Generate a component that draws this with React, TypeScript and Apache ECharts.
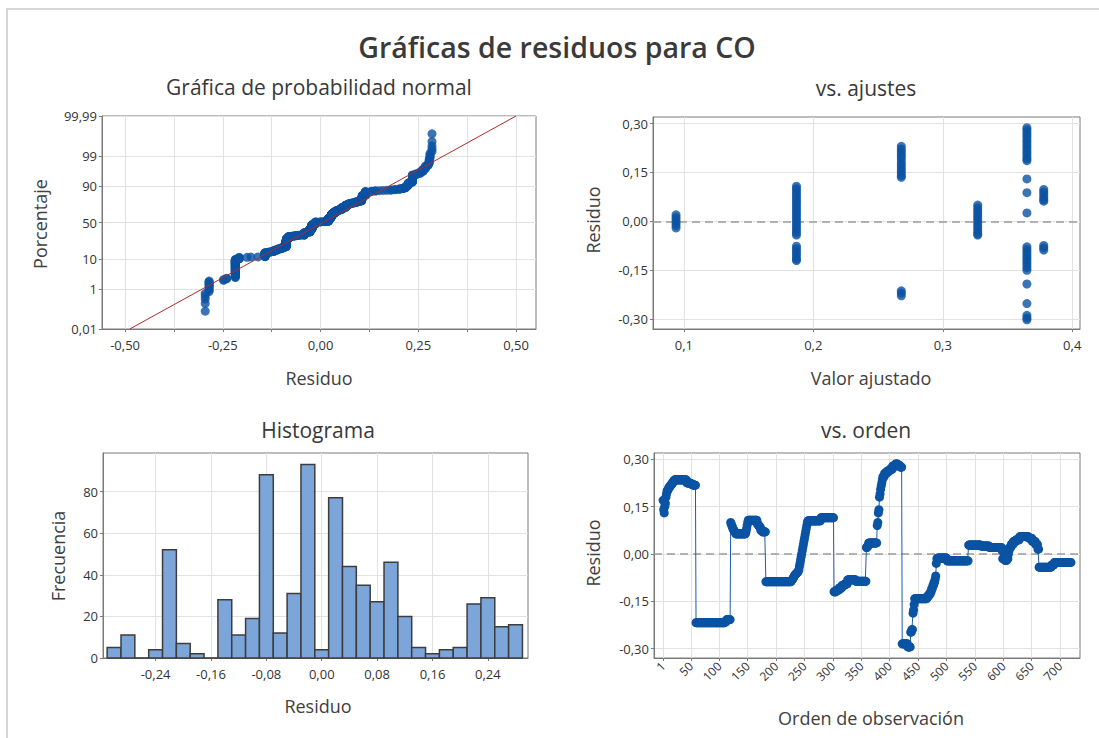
import React, { useEffect, useRef } from "react";
import * as echarts from "echarts";

// ---------- texts ----------
const mainTitle = "Gráficas de residuos para CO";
const panelTitles = ["Gráfica de probabilidad normal", "vs. ajustes", "Histograma", "vs. orden"];
const xNames = ["Residuo", "Valor ajustado", "Residuo", "Orden de observación"];
const yNames = ["Porcentaje", "Residuo", "Frecuencia", "Residuo"];

// ---------- residuals in observation order (run-length: [residual, count]) ----------
const orderRuns: [number, number][] = [
  [0.17, 1], [0.14, 1], [0.13, 1], [0.15, 1], [0.16, 1], [0.18, 1], [0.19, 1], [0.2, 2], [0.205, 1],
  [0.21, 2], [0.215, 2], [0.22, 2], [0.225, 2], [0.23, 2], [0.235, 22], [0.225, 6], [0.222, 5], [0.218, 5],
  [-0.218, 51], [-0.215, 3], [-0.208, 7],
  [0.1, 1], [0.095, 1], [0.09, 1], [0.085, 1], [0.08, 1], [0.077, 1], [0.074, 1], [0.071, 1], [0.068, 1],
  [0.064, 18], [0.07, 1], [0.08, 1], [0.09, 1], [0.1, 1], [0.107, 16], [0.095, 2], [0.09, 2], [0.085, 2],
  [0.075, 3], [0.07, 6],
  [-0.088, 45], [-0.085, 1], [-0.082, 1], [-0.08, 1], [-0.077, 1], [-0.074, 1], [-0.07, 1], [-0.067, 1],
  [-0.065, 1], [-0.063, 1], [-0.061, 1], [-0.06, 1], [-0.058, 1], [-0.055, 1], [-0.05, 1],
  [-0.04, 1], [-0.03, 1], [-0.02, 1], [-0.01, 1], [0.0, 1], [0.01, 1], [0.02, 1], [0.03, 1], [0.04, 1],
  [0.05, 1], [0.06, 1], [0.07, 1], [0.08, 1], [0.09, 1], [0.1, 1], [0.105, 1], [0.105, 22], [0.115, 23],
  [-0.12, 4], [-0.115, 5], [-0.108, 5], [-0.1, 5], [-0.095, 5], [-0.082, 15], [-0.087, 18],
  [0.02, 2], [0.025, 2], [0.035, 15],
  [0.09, 1], [0.1, 1], [0.13, 1], [0.14, 1], [0.18, 1], [0.19, 1], [0.205, 1], [0.215, 1], [0.225, 1],
  [0.235, 1], [0.245, 3], [0.255, 4], [0.262, 5], [0.268, 5], [0.278, 5], [0.285, 5], [0.28, 4], [0.275, 3],
  [-0.285, 10], [-0.295, 5], [-0.248, 2], [-0.24, 2], [-0.188, 1], [-0.178, 1], [-0.16, 1], [-0.142, 22],
  [-0.135, 3], [-0.128, 3], [-0.12, 2], [-0.11, 2], [-0.1, 2], [-0.09, 2], [-0.08, 1], [-0.07, 1],
  [-0.03, 1], [-0.015, 1],
  [-0.013, 17], [-0.022, 38], [0.028, 22], [0.025, 15], [0.02, 22], [0.01, 1], [-0.015, 4], [-0.02, 4],
  [-0.015, 2], [0.0, 1], [0.01, 1], [0.02, 3], [0.03, 4], [0.04, 5], [0.045, 6], [0.055, 16], [0.05, 6],
  [0.04, 6], [0.03, 4], [0.015, 2], [-0.042, 22], [-0.035, 5], [-0.027, 30],
];
const orderTicks = [1, 50, 100, 150, 200, 250, 300, 350, 400, 450, 500, 550, 600, 650, 700];

// ---------- normal probability plot ----------
const probTickPercents = [0.01, 1, 10, 50, 90, 99, 99.99];
const probTickLabels = ["0,01", "1", "10", "50", "90", "99", "99,99"];
const probXTicks = [-0.5, -0.25, 0, 0.25, 0.5];
const probXGrid = [-0.5, -0.375, -0.25, -0.125, 0, 0.125, 0.25, 0.375, 0.5];
const fitLine: [number, number][] = [[-0.488, 0.01], [0.5, 99.99]]; // [residual, percent]

// ---------- residual vs fitted ----------
const fittedPoints: [number, number][] = [
  [0.094, 0.02], [0.094, 0.012], [0.094, 0.004], [0.094, -0.004], [0.094, -0.012], [0.094, -0.02],
  [0.187, 0.108], [0.187, 0.1], [0.187, 0.092], [0.187, 0.084], [0.187, 0.076], [0.187, 0.068], [0.187, 0.06],
  [0.187, 0.052], [0.187, 0.044], [0.187, 0.036], [0.187, 0.028], [0.187, 0.02], [0.187, 0.012], [0.187, 0.004],
  [0.187, -0.004], [0.187, -0.012], [0.187, -0.02], [0.187, -0.028], [0.187, -0.036], [0.187, -0.042],
  [0.187, -0.076], [0.187, -0.084], [0.187, -0.092], [0.187, -0.1], [0.187, -0.108], [0.187, -0.116], [0.187, -0.12],
  [0.268, 0.23], [0.268, 0.222], [0.268, 0.214], [0.268, 0.206], [0.268, 0.198], [0.268, 0.19], [0.268, 0.18],
  [0.268, 0.172], [0.268, 0.164], [0.268, 0.156], [0.268, 0.148], [0.268, 0.14], [0.268, 0.135],
  [0.268, -0.213], [0.268, -0.22], [0.268, -0.228],
  [0.327, 0.05], [0.327, 0.042], [0.327, 0.034], [0.327, 0.026], [0.327, 0.018], [0.327, 0.01], [0.327, 0.002],
  [0.327, -0.006], [0.327, -0.014], [0.327, -0.022], [0.327, -0.03], [0.327, -0.038], [0.327, -0.042],
  [0.365, 0.287], [0.365, 0.28], [0.365, 0.272], [0.365, 0.264], [0.365, 0.256], [0.365, 0.248], [0.365, 0.24],
  [0.365, 0.232], [0.365, 0.224], [0.365, 0.216], [0.365, 0.208], [0.365, 0.2], [0.365, 0.192], [0.365, 0.186],
  [0.365, 0.13], [0.365, 0.088], [0.365, 0.026],
  [0.365, -0.078], [0.365, -0.086], [0.365, -0.094], [0.365, -0.102], [0.365, -0.11], [0.365, -0.118],
  [0.365, -0.126], [0.365, -0.134], [0.365, -0.142], [0.365, -0.15], [0.365, -0.192], [0.365, -0.252],
  [0.365, -0.288], [0.365, -0.296], [0.365, -0.302],
  [0.378, 0.098], [0.378, 0.09], [0.378, 0.082], [0.378, 0.074], [0.378, 0.066], [0.378, 0.062],
  [0.378, -0.074], [0.378, -0.081], [0.378, -0.088],
];
const residTicks = [-0.3, -0.15, 0, 0.15, 0.3];
const fittedTicks = [0.1, 0.2, 0.3, 0.4];

// ---------- histogram ----------
const histCenters = [
  -0.3, -0.28, -0.26, -0.24, -0.22, -0.2, -0.18, -0.16, -0.14, -0.12, -0.1, -0.08, -0.06, -0.04, -0.02,
  0.0, 0.02, 0.04, 0.06, 0.08, 0.1, 0.12, 0.14, 0.16, 0.18, 0.2, 0.22, 0.24, 0.26, 0.28,
];
const histCounts = [5, 11, 0, 4, 52, 7, 2, 0, 28, 11, 19, 88, 12, 31, 93, 4, 77, 44, 35, 27, 46, 20, 5, 2, 4, 5, 26, 29, 15, 16];
const histBinWidth = 0.02;
const histXTicks = [-0.24, -0.16, -0.08, 0, 0.08, 0.16, 0.24];
const histYTicks = [0, 20, 40, 60, 80];

// ---------- helpers ----------
function normInv(p: number): number {
  const a = [-39.69683028665376, 220.9460984245205, -275.9285104469687, 138.357751867269, -30.66479806614716, 2.506628277459239];
  const b = [-54.47609879822406, 161.5858368580409, -155.6989798598866, 66.80131188771972, -13.28068155288572];
  const c = [-0.007784894002430293, -0.3223964580411365, -2.400758277161838, -2.549732539343734, 4.374664141464968, 2.938163982698783];
  const d = [0.007784695709041462, 0.3224671290700398, 2.445134137142996, 3.754408661907416];
  const pl = 0.02425;
  if (p < pl) {
    const q = Math.sqrt(-2 * Math.log(p));
    return (((((c[0] * q + c[1]) * q + c[2]) * q + c[3]) * q + c[4]) * q + c[5]) / ((((d[0] * q + d[1]) * q + d[2]) * q + d[3]) * q + 1);
  }
  if (p <= 1 - pl) {
    const q = p - 0.5;
    const r = q * q;
    return ((((((a[0] * r + a[1]) * r + a[2]) * r + a[3]) * r + a[4]) * r + a[5]) * q) / (((((b[0] * r + b[1]) * r + b[2]) * r + b[3]) * r + b[4]) * r + 1);
  }
  const q = Math.sqrt(-2 * Math.log(1 - p));
  return -(((((c[0] * q + c[1]) * q + c[2]) * q + c[3]) * q + c[4]) * q + c[5]) / ((((d[0] * q + d[1]) * q + d[2]) * q + d[3]) * q + 1);
}
const fmtNum = (v: number, dec: number) => {
  const x = Math.abs(v) < 1e-9 ? 0 : v;
  return x.toFixed(dec).replace(".", ",");
};

const FONT = "'Open Sans', 'Noto Sans', sans-serif";
const TXT = "#333333";
const AXC = "#7a7a7a";
const GRIDC = "#e2e2e2";
const BLUE = "#0b53a3";

function valAxis(gridIndex: number, min: number, max: number, tickVals: number[], labelVals: number[], fmt: (v: number) => string, extra: any = {}) {
  const base: any = {
    type: "value",
    gridIndex,
    min,
    max,
    axisLine: { show: true, onZero: false, lineStyle: { color: AXC, width: 1 } },
    axisTick: { show: true, length: 3, customValues: tickVals, lineStyle: { color: AXC } },
    axisLabel: { customValues: labelVals, formatter: fmt, fontSize: 13, color: TXT, fontFamily: FONT, margin: 5 },
    splitLine: { show: true, lineStyle: { color: GRIDC, width: 1 } },
  };
  if (extra.axisLabel) {
    base.axisLabel = { ...base.axisLabel, ...extra.axisLabel };
  }
  return base;
}

export default function App() {
  const ref = useRef<HTMLDivElement>(null);

  useEffect(() => {
    if (!ref.current) return;
    const chart = echarts.init(ref.current, null, { renderer: "svg" });

    // expand residuals
    const residuals: number[] = [];
    orderRuns.forEach(([v, c]) => {
      for (let k = 0; k < c; k++) residuals.push(v);
    });
    const n = residuals.length;
    const orderData = residuals.map((r, i) => [i + 1, r]);
    const sorted = [...residuals].sort((x, y) => x - y);
    const probData = sorted.map((r, i) => [r, normInv((i + 1 - 0.3) / (n + 0.4))]);
    const zTicks = probTickPercents.map((p) => normInv(p / 100));
    const zMin = zTicks[0];
    const zMax = zTicks[zTicks.length - 1];
    const fitData = fitLine.map(([r, p]) => [r, normInv(p / 100)]);
    const histData = histCenters.map((c, i) => [c - histBinWidth / 2, c + histBinWidth / 2, histCounts[i]]);

    const probFmt = (v: number) => {
      let best = 0;
      zTicks.forEach((z, i) => {
        if (Math.abs(z - v) < Math.abs(zTicks[best] - v)) best = i;
      });
      return probTickLabels[best];
    };

    const zeroLine = {
      silent: true,
      z: 1,
      symbol: ["none", "none"],
      label: { show: false },
      lineStyle: { type: [8, 5], color: "#9c9c9c", width: 1.5 },
      data: [{ yAxis: 0 }],
    };

    const textEl = (text: string, x: number, y: number, size: number, rot = 0, color = "#383838", weight: any = "normal") => ({
      type: "text",
      x,
      y,
      rotation: rot,
      style: { text, fontSize: size, fontWeight: weight, fontFamily: FONT, fill: color, textAlign: "center", textVerticalAlign: "middle" },
    });

    const option: any = {
      animation: false,
      backgroundColor: "#ffffff",
      graphic: [
        { type: "rect", shape: { x: 7, y: 9, width: 1200, height: 800 }, style: { fill: "none", stroke: "#d6d6d6", lineWidth: 2 } },
        textEl(mainTitle, 557, 47, 28.5, 0, "#3a3a3a", 600),
        textEl(panelTitles[0], 319, 87, 21),
        textEl(panelTitles[1], 866, 88, 21),
        textEl(panelTitles[2], 318, 430, 21),
        textEl(panelTitles[3], 866, 430, 21),
        textEl(xNames[0], 319, 378, 18, 0, "#404040"),
        textEl(xNames[1], 871, 378, 18, 0, "#404040"),
        textEl(xNames[2], 318, 706, 18, 0, "#404040"),
        textEl(xNames[3], 871, 718, 18, 0, "#404040"),
        textEl(yNames[0], 40, 224, 18, Math.PI / 2, "#404040"),
        textEl(yNames[1], 593, 220, 18, Math.PI / 2, "#404040"),
        textEl(yNames[2], 58, 556, 18, Math.PI / 2, "#404040"),
        textEl(yNames[3], 593, 553, 18, Math.PI / 2, "#404040"),
      ],
      grid: [
        { left: 102, top: 116, width: 434, height: 213, show: true, borderColor: AXC, borderWidth: 1 },
        { left: 653, top: 117, width: 427, height: 212, show: true, borderColor: AXC, borderWidth: 1 },
        { left: 103, top: 453, width: 425, height: 205, show: true, borderColor: AXC, borderWidth: 1 },
        { left: 654, top: 453, width: 426, height: 205, show: true, borderColor: AXC, borderWidth: 1 },
      ],
      xAxis: [
        valAxis(0, -0.559, 0.551, probXGrid, probXTicks, (v) => fmtNum(v, 2), { axisLabel: { margin: 9 } }),
        valAxis(1, 0.0762, 0.406, fittedTicks, fittedTicks, (v) => fmtNum(v, 1), { axisLabel: { margin: 9 } }),
        valAxis(2, -0.316, 0.298, histXTicks, histXTicks, (v) => fmtNum(v, 2), { axisLabel: { margin: 9 } }),
        valAxis(3, -15, 735, orderTicks, orderTicks, (v) => String(Math.round(v)), { axisLabel: { rotate: 45, fontSize: 12, margin: 6 } }),
      ],
      yAxis: [
        valAxis(0, zMin, zMax, zTicks, zTicks, probFmt),
        valAxis(1, -0.33, 0.32, residTicks, residTicks, (v) => fmtNum(v, 2)),
        valAxis(2, 0, 98.5, histYTicks, histYTicks, (v) => String(Math.round(v))),
        valAxis(3, -0.33, 0.32, residTicks, residTicks, (v) => fmtNum(v, 2)),
      ],
      series: [
        {
          type: "line",
          xAxisIndex: 0,
          yAxisIndex: 0,
          data: fitData,
          symbol: "none",
          z: 3,
          lineStyle: { color: "#b22a2a", width: 1 },
        },
        {
          type: "scatter",
          xAxisIndex: 0,
          yAxisIndex: 0,
          data: probData,
          symbol: "circle",
          symbolSize: 9,
          z: 2,
          itemStyle: { color: BLUE },
        },
        {
          type: "scatter",
          xAxisIndex: 1,
          yAxisIndex: 1,
          data: fittedPoints,
          symbol: "circle",
          symbolSize: 9,
          z: 3,
          itemStyle: { color: BLUE },
          markLine: zeroLine,
        },
        {
          type: "custom",
          xAxisIndex: 2,
          yAxisIndex: 2,
          data: histData,
          renderItem: (params: any, api: any) => {
            const p0 = api.coord([api.value(0), api.value(2)]);
            const p1 = api.coord([api.value(1), 0]);
            return {
              type: "rect",
              shape: { x: p0[0], y: p0[1], width: p1[0] - p0[0], height: p1[1] - p0[1] },
              style: { fill: "#7ca5d9", stroke: "#3d3d3d", lineWidth: 1.5 },
            };
          },
        },
        {
          type: "line",
          xAxisIndex: 3,
          yAxisIndex: 3,
          data: orderData,
          symbol: "circle",
          symbolSize: 9,
          showSymbol: true,
          z: 3,
          itemStyle: { color: BLUE },
          lineStyle: { color: "#1c5cab", width: 1 },
          markLine: zeroLine,
        },
      ],
    };
    chart.setOption(option);
    return () => chart.dispose();
  }, []);

  return <div ref={ref} style={{ position: "absolute", left: 0, top: 0, width: 1099, height: 738 }} />;
}
